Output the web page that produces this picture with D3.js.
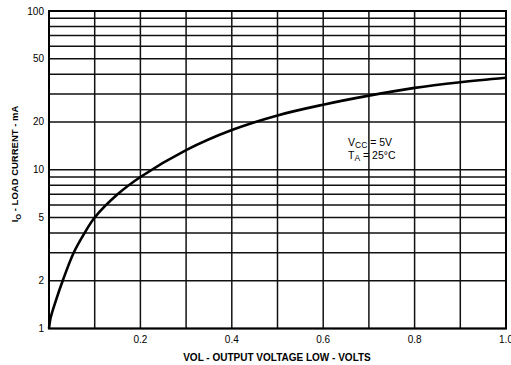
<!DOCTYPE html>
<html><head><meta charset="utf-8">
<script src="https://cdn.jsdelivr.net/npm/d3@7"></script>
<style>body{margin:0;background:#fff}svg{display:block}text{font-family:"Liberation Sans",Arial,Helvetica,sans-serif;fill:#000;white-space:pre}</style>
</head><body><svg id="c" width="511" height="365"></svg>
<script>
const voltage = [0, 0.003, 0.015, 0.03, 0.054, 0.078, 0.1, 0.15, 0.2, 0.3, 0.4, 0.5, 0.6, 0.7, 0.8, 0.9, 1.0];
const current = [1, 1.15, 1.5, 2, 3, 4, 5, 7, 9, 13.3, 17.8, 22, 25.7, 29.3, 32.8, 35.6, 38];
const xGrid = [0, 0.1, 0.2, 0.3, 0.4, 0.5, 0.6, 0.7, 0.8, 0.9, 1.0];
const xTickLabels = ["0.2", "0.4", "0.6", "0.8", "1.0"];
const xTickValues = [0.2, 0.4, 0.6, 0.8, 1.0];
const yGrid = [1, 2, 3, 4, 5, 6, 7, 8, 9, 10, 20, 30, 40, 50, 60, 70, 80, 90, 100];
const yTickValues = [1, 2, 5, 10, 20, 50, 100];
const yTickLabels = ["1", "2", "5", "10", "20", "50", "100"];

const svg = d3.select("#c");
const x = d3.scaleLinear().domain([0, 1]).range([49, 506]);
const y = d3.scaleLog().domain([1, 100]).range([328.5, 11]);

const g = svg.append("g");
g.selectAll("line.h").data(yGrid).join("line")
  .attr("x1", x(0)).attr("x2", x(1)).attr("y1", d => y(d)).attr("y2", d => y(d))
  .attr("stroke", "#111").attr("stroke-width", 1.5);
g.selectAll("line.v").data(xGrid).join("line")
  .attr("y1", y(1)).attr("y2", y(100)).attr("x1", d => x(d)).attr("x2", d => x(d))
  .attr("stroke", "#111").attr("stroke-width", 1.5);
g.append("rect").attr("x", x(0)).attr("y", y(100)).attr("width", x(1) - x(0)).attr("height", y(1) - y(100))
  .attr("fill", "none").attr("stroke", "#000").attr("stroke-width", 2);

const pts = voltage.map((v, i) => [v, current[i]]);
g.append("path").datum(pts)
  .attr("d", d3.line().x(d => x(d[0])).y(d => y(d[1])).curve(d3.curveCatmullRom.alpha(0.5)))
  .attr("fill", "none").attr("stroke", "#000").attr("stroke-width", 2.6);

g.selectAll("text.yt").data(yTickValues).join("text")
  .attr("x", 44).attr("y", d => y(d)).attr("dy", "0.35em").attr("text-anchor", "end")
  .attr("font-size", 10).text((d, i) => yTickLabels[i]);
g.selectAll("text.xt").data(xTickValues).join("text")
  .attr("x", d => x(d)).attr("y", 343).attr("text-anchor", "middle")
  .attr("font-size", 10).text((d, i) => xTickLabels[i]);

g.append("text").attr("x", 277).attr("y", 361).attr("text-anchor", "middle")
  .attr("font-size", 10).attr("font-weight", "bold").text("VOL - OUTPUT VOLTAGE LOW - VOLTS");

const yt = g.append("text").attr("transform", "translate(18,164) rotate(-90)")
  .attr("text-anchor", "middle").attr("font-size", 9.5).attr("font-weight", "bold");
yt.append("tspan").text("I");
yt.append("tspan").attr("font-size", 7.5).attr("dy", 2.5).text("O");
yt.append("tspan").attr("dy", -2.5).text(" - LOAD CURRENT - mA");

const a1 = g.append("text").attr("x", 348).attr("y", 146).attr("font-size", 10.5);
a1.append("tspan").text("V");
a1.append("tspan").attr("font-size", 8.5).attr("dy", 1.5).text("CC");
a1.append("tspan").attr("dy", -1.5).text(" = 5V");
const a2 = g.append("text").attr("x", 348).attr("y", 159).attr("font-size", 10.5);
a2.append("tspan").text("T");
a2.append("tspan").attr("font-size", 8.5).attr("dy", 1.5).text("A");
a2.append("tspan").attr("dy", -1.5).text(" = 25°C");
</script></body></html>
